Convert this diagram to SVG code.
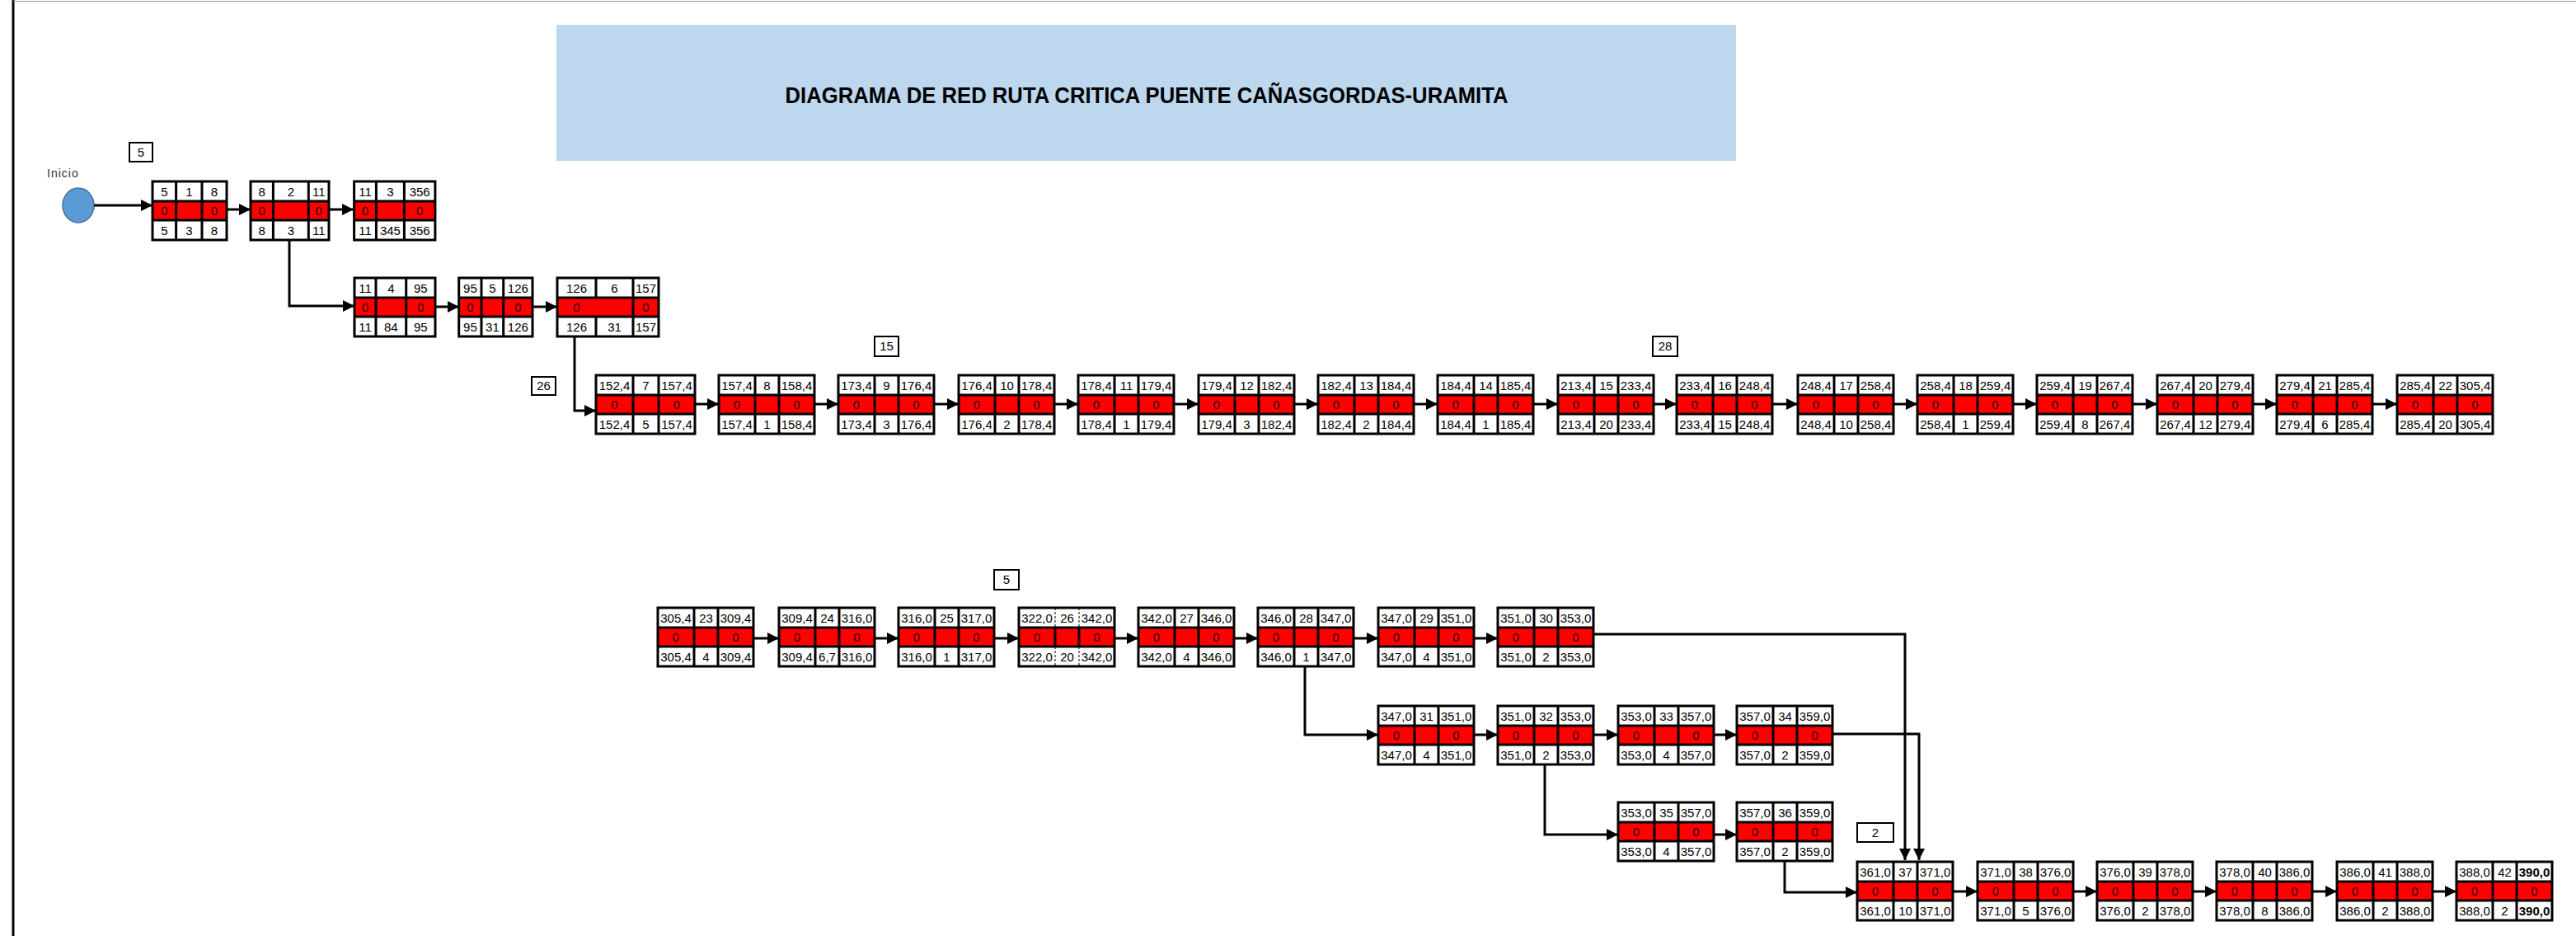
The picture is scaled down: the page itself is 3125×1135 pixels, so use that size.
<svg xmlns="http://www.w3.org/2000/svg" xmlns:xlink="http://www.w3.org/1999/xlink" width="3125" height="1135" viewBox="0 0 3125 1135">
<style>
.w{fill:#fff}
.r{fill:#f00}
.ln{fill:none;stroke:#000;stroke-width:3}
.dl{fill:none;stroke:#000;stroke-width:1;stroke-dasharray:3 2}
text{font-family:"Liberation Sans",Arial,sans-serif;font-size:15px;text-anchor:middle;fill:#000}
.z{fill:#2a0000}
.b{font-weight:bold}
.c{fill:none;stroke:#000;stroke-width:3}
.lb{fill:#fff;stroke:#000;stroke-width:2}
.ini{font-size:14px;text-anchor:start;letter-spacing:1px;fill:#333;font-weight:normal}
</style>
<defs>
<marker id="ah" markerUnits="userSpaceOnUse" markerWidth="14" markerHeight="14" refX="14" refY="7" orient="auto">
<path d="M0,0 L14,7 L0,14z" fill="#000"/>
</marker>
<g id="sk">
<rect class="w" width="116" height="71"/>
<rect class="r" y="24" width="116" height="23"/>
<path class="ln" d="M0 24H116M0 47H116M44 0V71M73 0V71"/>
<rect class="ln" width="116" height="71"/>
<text class="z" x="22" y="41">0</text>
<text class="z" x="94.5" y="41">0</text>
</g>
</defs>
<rect width="3125" height="1135" fill="#fff"/>
<line x1="16" y1="0" x2="16" y2="1135" stroke="#000" stroke-width="3"/>
<line x1="16" y1="1.5" x2="3125" y2="1.5" stroke="#999" stroke-width="1"/>

<g id="title">
<rect x="675" y="30" width="1431" height="165" fill="#bdd7ee"/>
<text x="1391" y="125" class="b" style="font-size:27px" textLength="877" lengthAdjust="spacingAndGlyphs">DIAGRAMA DE RED RUTA CRITICA PUENTE CAÑASGORDAS-URAMITA</text>
</g>

<g id="inicio">
<ellipse cx="95" cy="249" rx="19" ry="21" fill="#5b9bd5" stroke="#41719c" stroke-width="1.5"/>
<text class="ini" x="57" y="215">Inicio</text>
</g>

<g id="labels">
<rect class="lb" x="157" y="173" width="28" height="23"/><text x="171" y="190">5</text>
<rect class="lb" x="645" y="457" width="29" height="22"/><text x="659.5" y="473">26</text>
<rect class="lb" x="1061" y="408" width="29" height="24"/><text x="1075.5" y="425">15</text>
<rect class="lb" x="2005" y="408" width="30" height="24"/><text x="2020" y="425">28</text>
<rect class="lb" x="1206" y="691" width="30" height="24"/><text x="1221" y="708">5</text>
<rect class="lb" x="2253" y="998" width="44" height="23"/><text x="2275" y="1015">2</text>
</g>

<g id="connectors" class="c">
<path d="M114 249H185" marker-end="url(#ah)"/>
<path d="M275 254H304" marker-end="url(#ah)"/>
<path d="M399 254H429" marker-end="url(#ah)"/>
<path d="M351 291V371H430" marker-end="url(#ah)"/>
<path d="M528 372H557" marker-end="url(#ah)"/>
<path d="M646 372H676" marker-end="url(#ah)"/>
<path d="M697 408V498H723" marker-end="url(#ah)"/>
<path d="M843 490H872" marker-end="url(#ah)"/>
<path d="M988 490H1017" marker-end="url(#ah)"/>
<path d="M1133 490H1163" marker-end="url(#ah)"/>
<path d="M1279 490H1308" marker-end="url(#ah)"/>
<path d="M1424 490H1454" marker-end="url(#ah)"/>
<path d="M1570 490H1599" marker-end="url(#ah)"/>
<path d="M1715 490H1744" marker-end="url(#ah)"/>
<path d="M1860 490H1890" marker-end="url(#ah)"/>
<path d="M2006 490H2034" marker-end="url(#ah)"/>
<path d="M2150 490H2181" marker-end="url(#ah)"/>
<path d="M2297 490H2326" marker-end="url(#ah)"/>
<path d="M2442 490H2471" marker-end="url(#ah)"/>
<path d="M2587 490H2617" marker-end="url(#ah)"/>
<path d="M2733 490H2762" marker-end="url(#ah)"/>
<path d="M2878 490H2908" marker-end="url(#ah)"/>
<path d="M914 774H945" marker-end="url(#ah)"/>
<path d="M1061 774H1090" marker-end="url(#ah)"/>
<path d="M1206 774H1236" marker-end="url(#ah)"/>
<path d="M1352 774H1381" marker-end="url(#ah)"/>
<path d="M1497 774H1526" marker-end="url(#ah)"/>
<path d="M1642 774H1672" marker-end="url(#ah)"/>
<path d="M1788 774H1817" marker-end="url(#ah)"/>
<path d="M1933 769H2311V1043" marker-end="url(#ah)"/>
<path d="M1583 808V891H1672" marker-end="url(#ah)"/>
<path d="M1788 891H1817" marker-end="url(#ah)"/>
<path d="M1933 891H1963" marker-end="url(#ah)"/>
<path d="M2079 891H2107" marker-end="url(#ah)"/>
<path d="M2223 890H2328V1043" marker-end="url(#ah)"/>
<path d="M1874 927V1012H1963" marker-end="url(#ah)"/>
<path d="M2079 1012H2107" marker-end="url(#ah)"/>
<path d="M2165 1043V1082H2253" marker-end="url(#ah)"/>
<path d="M2369 1081H2399" marker-end="url(#ah)"/>
<path d="M2515 1081H2544" marker-end="url(#ah)"/>
<path d="M2660 1081H2689" marker-end="url(#ah)"/>
<path d="M2805 1081H2835" marker-end="url(#ah)"/>
<path d="M2951 1081H2980" marker-end="url(#ah)"/>
</g>

<g id="n1" transform="translate(185,220)">
<rect class="w" width="90" height="71"/><rect class="r" y="24" width="90" height="23"/>
<path class="ln" d="M0 24H90M0 47H90M28.6 0V71M60 0V71"/><rect class="ln" width="90" height="71"/>
<text x="14.3" y="17.5">5</text><text x="44.3" y="17.5">1</text><text x="75" y="17.5">8</text>
<text class="z" x="14.3" y="41">0</text><text class="z" x="75" y="41">0</text>
<text x="14.3" y="64.5">5</text><text x="44.3" y="64.5">3</text><text x="75" y="64.5">8</text>
</g>
<g id="n2" transform="translate(304,220)">
<rect class="w" width="95" height="71"/><rect class="r" y="24" width="95" height="23"/>
<path class="ln" d="M0 24H95M0 47H95M27.4 0V71M70.3 0V71"/><rect class="ln" width="95" height="71"/>
<text x="13.7" y="17.5">8</text><text x="48.9" y="17.5">2</text><text x="82.7" y="17.5">11</text>
<text class="z" x="13.7" y="41">0</text><text class="z" x="82.7" y="41">0</text>
<text x="13.7" y="64.5">8</text><text x="48.9" y="64.5">3</text><text x="82.7" y="64.5">11</text>
</g>
<g id="n3" transform="translate(429.6,220)">
<rect class="w" width="98.3" height="71"/><rect class="r" y="24" width="98.3" height="23"/>
<path class="ln" d="M0 24H98.3M0 47H98.3M26.8 0V71M60.8 0V71"/><rect class="ln" width="98.3" height="71"/>
<text x="13.4" y="17.5">11</text><text x="43.8" y="17.5">3</text><text x="79.6" y="17.5">356</text>
<text class="z" x="13.4" y="41">0</text><text class="z" x="79.6" y="41">0</text>
<text x="13.4" y="64.5">11</text><text x="43.8" y="64.5">345</text><text x="79.6" y="64.5">356</text>
</g>
<g id="n4" transform="translate(430,337)">
<rect class="w" width="98" height="71"/><rect class="r" y="24" width="98" height="23"/>
<path class="ln" d="M0 24H98M0 47H98M26 0V71M62.7 0V71"/><rect class="ln" width="98" height="71"/>
<text x="13" y="17.5">11</text><text x="44.3" y="17.5">4</text><text x="80.3" y="17.5">95</text>
<text class="z" x="13" y="41">0</text><text class="z" x="80.3" y="41">0</text>
<text x="13" y="64.5">11</text><text x="44.3" y="64.5">84</text><text x="80.3" y="64.5">95</text>
</g>
<g id="n5" transform="translate(556.7,337)">
<rect class="w" width="89.3" height="71"/><rect class="r" y="24" width="89.3" height="23"/>
<path class="ln" d="M0 24H89.3M0 47H89.3M27.3 0V71M54 0V71"/><rect class="ln" width="89.3" height="71"/>
<text x="13.7" y="17.5">95</text><text x="40.7" y="17.5">5</text><text x="71.7" y="17.5">126</text>
<text class="z" x="13.7" y="41">0</text><text class="z" x="71.7" y="41">0</text>
<text x="13.7" y="64.5">95</text><text x="40.7" y="64.5">31</text><text x="71.7" y="64.5">126</text>
</g>
<g id="n6" transform="translate(676,337)">
<rect class="w" width="123" height="71"/><rect class="r" y="24" width="123" height="23"/>
<path class="ln" d="M0 24H123M0 47H123M47 0V24M47 47V71M92 0V71"/><rect class="ln" width="123" height="71"/>
<text x="23.5" y="17.5">126</text><text x="69.5" y="17.5">6</text><text x="107.5" y="17.5">157</text>
<text class="z" x="23.5" y="41">0</text><text class="z" x="107.5" y="41">0</text>
<text x="23.5" y="64.5">126</text><text x="69.5" y="64.5">31</text><text x="107.5" y="64.5">157</text>
</g>
<g id="n7" transform="translate(723,455)">
<rect class="w" width="120" height="71"/><rect class="r" y="24" width="120" height="23"/>
<path class="ln" d="M0 24H120M0 47H120M45 0V71M76 0V71"/><rect class="ln" width="120" height="71"/>
<text x="22.5" y="17.5">152,4</text><text x="60.5" y="17.5">7</text><text x="98" y="17.5">157,4</text>
<text class="z" x="22.5" y="41">0</text><text class="z" x="98" y="41">0</text>
<text x="22.5" y="64.5">152,4</text><text x="60.5" y="64.5">5</text><text x="98" y="64.5">157,4</text>
</g>

<g id="n8" transform="translate(872,455)"><use xlink:href="#sk"/><text x="22" y="17.5">157,4</text><text x="58.5" y="17.5">8</text><text x="94.5" y="17.5">158,4</text><text x="22" y="64.5">157,4</text><text x="58.5" y="64.5">1</text><text x="94.5" y="64.5">158,4</text></g>
<g id="n9" transform="translate(1017,455)"><use xlink:href="#sk"/><text x="22" y="17.5">173,4</text><text x="58.5" y="17.5">9</text><text x="94.5" y="17.5">176,4</text><text x="22" y="64.5">173,4</text><text x="58.5" y="64.5">3</text><text x="94.5" y="64.5">176,4</text></g>
<g id="n10" transform="translate(1163,455)"><use xlink:href="#sk"/><text x="22" y="17.5">176,4</text><text x="58.5" y="17.5">10</text><text x="94.5" y="17.5">178,4</text><text x="22" y="64.5">176,4</text><text x="58.5" y="64.5">2</text><text x="94.5" y="64.5">178,4</text></g>
<g id="n11" transform="translate(1308,455)"><use xlink:href="#sk"/><text x="22" y="17.5">178,4</text><text x="58.5" y="17.5">11</text><text x="94.5" y="17.5">179,4</text><text x="22" y="64.5">178,4</text><text x="58.5" y="64.5">1</text><text x="94.5" y="64.5">179,4</text></g>
<g id="n12" transform="translate(1454,455)"><use xlink:href="#sk"/><text x="22" y="17.5">179,4</text><text x="58.5" y="17.5">12</text><text x="94.5" y="17.5">182,4</text><text x="22" y="64.5">179,4</text><text x="58.5" y="64.5">3</text><text x="94.5" y="64.5">182,4</text></g>
<g id="n13" transform="translate(1599,455)"><use xlink:href="#sk"/><text x="22" y="17.5">182,4</text><text x="58.5" y="17.5">13</text><text x="94.5" y="17.5">184,4</text><text x="22" y="64.5">182,4</text><text x="58.5" y="64.5">2</text><text x="94.5" y="64.5">184,4</text></g>
<g id="n14" transform="translate(1744,455)"><use xlink:href="#sk"/><text x="22" y="17.5">184,4</text><text x="58.5" y="17.5">14</text><text x="94.5" y="17.5">185,4</text><text x="22" y="64.5">184,4</text><text x="58.5" y="64.5">1</text><text x="94.5" y="64.5">185,4</text></g>
<g id="n15" transform="translate(1890,455)"><use xlink:href="#sk"/><text x="22" y="17.5">213,4</text><text x="58.5" y="17.5">15</text><text x="94.5" y="17.5">233,4</text><text x="22" y="64.5">213,4</text><text x="58.5" y="64.5">20</text><text x="94.5" y="64.5">233,4</text></g>
<g id="n16" transform="translate(2034,455)"><use xlink:href="#sk"/><text x="22" y="17.5">233,4</text><text x="58.5" y="17.5">16</text><text x="94.5" y="17.5">248,4</text><text x="22" y="64.5">233,4</text><text x="58.5" y="64.5">15</text><text x="94.5" y="64.5">248,4</text></g>
<g id="n17" transform="translate(2181,455)"><use xlink:href="#sk"/><text x="22" y="17.5">248,4</text><text x="58.5" y="17.5">17</text><text x="94.5" y="17.5">258,4</text><text x="22" y="64.5">248,4</text><text x="58.5" y="64.5">10</text><text x="94.5" y="64.5">258,4</text></g>
<g id="n18" transform="translate(2326,455)"><use xlink:href="#sk"/><text x="22" y="17.5">258,4</text><text x="58.5" y="17.5">18</text><text x="94.5" y="17.5">259,4</text><text x="22" y="64.5">258,4</text><text x="58.5" y="64.5">1</text><text x="94.5" y="64.5">259,4</text></g>
<g id="n19" transform="translate(2471,455)"><use xlink:href="#sk"/><text x="22" y="17.5">259,4</text><text x="58.5" y="17.5">19</text><text x="94.5" y="17.5">267,4</text><text x="22" y="64.5">259,4</text><text x="58.5" y="64.5">8</text><text x="94.5" y="64.5">267,4</text></g>
<g id="n20" transform="translate(2617,455)"><use xlink:href="#sk"/><text x="22" y="17.5">267,4</text><text x="58.5" y="17.5">20</text><text x="94.5" y="17.5">279,4</text><text x="22" y="64.5">267,4</text><text x="58.5" y="64.5">12</text><text x="94.5" y="64.5">279,4</text></g>
<g id="n21" transform="translate(2762,455)"><use xlink:href="#sk"/><text x="22" y="17.5">279,4</text><text x="58.5" y="17.5">21</text><text x="94.5" y="17.5">285,4</text><text x="22" y="64.5">279,4</text><text x="58.5" y="64.5">6</text><text x="94.5" y="64.5">285,4</text></g>
<g id="n22" transform="translate(2908,455)"><use xlink:href="#sk"/><text x="22" y="17.5">285,4</text><text x="58.5" y="17.5">22</text><text x="94.5" y="17.5">305,4</text><text x="22" y="64.5">285,4</text><text x="58.5" y="64.5">20</text><text x="94.5" y="64.5">305,4</text></g>

<g id="n23" transform="translate(798,737)"><use xlink:href="#sk"/><text x="22" y="17.5">305,4</text><text x="58.5" y="17.5">23</text><text x="94.5" y="17.5">309,4</text><text x="22" y="64.5">305,4</text><text x="58.5" y="64.5">4</text><text x="94.5" y="64.5">309,4</text></g>
<g id="n24" transform="translate(945,737)"><use xlink:href="#sk"/><text x="22" y="17.5">309,4</text><text x="58.5" y="17.5">24</text><text x="94.5" y="17.5">316,0</text><text x="22" y="64.5">309,4</text><text x="58.5" y="64.5">6,7</text><text x="94.5" y="64.5">316,0</text></g>
<g id="n25" transform="translate(1090,737)"><use xlink:href="#sk"/><text x="22" y="17.5">316,0</text><text x="58.5" y="17.5">25</text><text x="94.5" y="17.5">317,0</text><text x="22" y="64.5">316,0</text><text x="58.5" y="64.5">1</text><text x="94.5" y="64.5">317,0</text></g>
<g id="n26" transform="translate(1236,737)">
<rect class="w" width="116" height="71"/><rect class="r" y="24" width="116" height="23"/>
<path class="ln" d="M0 24H116M0 47H116M44 24V47M73 24V47"/>
<path class="dl" d="M44 0V24M73 0V24M44 47V71M73 47V71"/>
<rect class="ln" width="116" height="71"/>
<text class="z" x="22" y="41">0</text><text class="z" x="94.5" y="41">0</text>
<text x="22" y="17.5">322,0</text><text x="58.5" y="17.5">26</text><text x="94.5" y="17.5">342,0</text><text x="22" y="64.5">322,0</text><text x="58.5" y="64.5">20</text><text x="94.5" y="64.5">342,0</text></g>
<g id="n27" transform="translate(1381,737)"><use xlink:href="#sk"/><text x="22" y="17.5">342,0</text><text x="58.5" y="17.5">27</text><text x="94.5" y="17.5">346,0</text><text x="22" y="64.5">342,0</text><text x="58.5" y="64.5">4</text><text x="94.5" y="64.5">346,0</text></g>
<g id="n28" transform="translate(1526,737)"><use xlink:href="#sk"/><text x="22" y="17.5">346,0</text><text x="58.5" y="17.5">28</text><text x="94.5" y="17.5">347,0</text><text x="22" y="64.5">346,0</text><text x="58.5" y="64.5">1</text><text x="94.5" y="64.5">347,0</text></g>
<g id="n29" transform="translate(1672,737)"><use xlink:href="#sk"/><text x="22" y="17.5">347,0</text><text x="58.5" y="17.5">29</text><text x="94.5" y="17.5">351,0</text><text x="22" y="64.5">347,0</text><text x="58.5" y="64.5">4</text><text x="94.5" y="64.5">351,0</text></g>
<g id="n30" transform="translate(1817,737)"><use xlink:href="#sk"/><text x="22" y="17.5">351,0</text><text x="58.5" y="17.5">30</text><text x="94.5" y="17.5">353,0</text><text x="22" y="64.5">351,0</text><text x="58.5" y="64.5">2</text><text x="94.5" y="64.5">353,0</text></g>

<g id="n31" transform="translate(1672,856)"><use xlink:href="#sk"/><text x="22" y="17.5">347,0</text><text x="58.5" y="17.5">31</text><text x="94.5" y="17.5">351,0</text><text x="22" y="64.5">347,0</text><text x="58.5" y="64.5">4</text><text x="94.5" y="64.5">351,0</text></g>
<g id="n32" transform="translate(1817,856)"><use xlink:href="#sk"/><text x="22" y="17.5">351,0</text><text x="58.5" y="17.5">32</text><text x="94.5" y="17.5">353,0</text><text x="22" y="64.5">351,0</text><text x="58.5" y="64.5">2</text><text x="94.5" y="64.5">353,0</text></g>
<g id="n33" transform="translate(1963,856)"><use xlink:href="#sk"/><text x="22" y="17.5">353,0</text><text x="58.5" y="17.5">33</text><text x="94.5" y="17.5">357,0</text><text x="22" y="64.5">353,0</text><text x="58.5" y="64.5">4</text><text x="94.5" y="64.5">357,0</text></g>
<g id="n34" transform="translate(2107,856)"><use xlink:href="#sk"/><text x="22" y="17.5">357,0</text><text x="58.5" y="17.5">34</text><text x="94.5" y="17.5">359,0</text><text x="22" y="64.5">357,0</text><text x="58.5" y="64.5">2</text><text x="94.5" y="64.5">359,0</text></g>
<g id="n35" transform="translate(1963,973)"><use xlink:href="#sk"/><text x="22" y="17.5">353,0</text><text x="58.5" y="17.5">35</text><text x="94.5" y="17.5">357,0</text><text x="22" y="64.5">353,0</text><text x="58.5" y="64.5">4</text><text x="94.5" y="64.5">357,0</text></g>
<g id="n36" transform="translate(2107,973)"><use xlink:href="#sk"/><text x="22" y="17.5">357,0</text><text x="58.5" y="17.5">36</text><text x="94.5" y="17.5">359,0</text><text x="22" y="64.5">357,0</text><text x="58.5" y="64.5">2</text><text x="94.5" y="64.5">359,0</text></g>

<g id="n37" transform="translate(2253,1045)"><use xlink:href="#sk"/><text x="22" y="17.5">361,0</text><text x="58.5" y="17.5">37</text><text x="94.5" y="17.5">371,0</text><text x="22" y="64.5">361,0</text><text x="58.5" y="64.5">10</text><text x="94.5" y="64.5">371,0</text></g>
<g id="n38" transform="translate(2399,1045)"><use xlink:href="#sk"/><text x="22" y="17.5">371,0</text><text x="58.5" y="17.5">38</text><text x="94.5" y="17.5">376,0</text><text x="22" y="64.5">371,0</text><text x="58.5" y="64.5">5</text><text x="94.5" y="64.5">376,0</text></g>
<g id="n39" transform="translate(2544,1045)"><use xlink:href="#sk"/><text x="22" y="17.5">376,0</text><text x="58.5" y="17.5">39</text><text x="94.5" y="17.5">378,0</text><text x="22" y="64.5">376,0</text><text x="58.5" y="64.5">2</text><text x="94.5" y="64.5">378,0</text></g>
<g id="n40" transform="translate(2689,1045)"><use xlink:href="#sk"/><text x="22" y="17.5">378,0</text><text x="58.5" y="17.5">40</text><text x="94.5" y="17.5">386,0</text><text x="22" y="64.5">378,0</text><text x="58.5" y="64.5">8</text><text x="94.5" y="64.5">386,0</text></g>
<g id="n41" transform="translate(2835,1045)"><use xlink:href="#sk"/><text x="22" y="17.5">386,0</text><text x="58.5" y="17.5">41</text><text x="94.5" y="17.5">388,0</text><text x="22" y="64.5">386,0</text><text x="58.5" y="64.5">2</text><text x="94.5" y="64.5">388,0</text></g>
<g id="n42" transform="translate(2980,1045)"><use xlink:href="#sk"/><text x="22" y="17.5">388,0</text><text x="58.5" y="17.5">42</text><text class="b" x="94.5" y="17.5">390,0</text><text x="22" y="64.5">388,0</text><text x="58.5" y="64.5">2</text><text class="b" x="94.5" y="64.5">390,0</text></g>
</svg>
